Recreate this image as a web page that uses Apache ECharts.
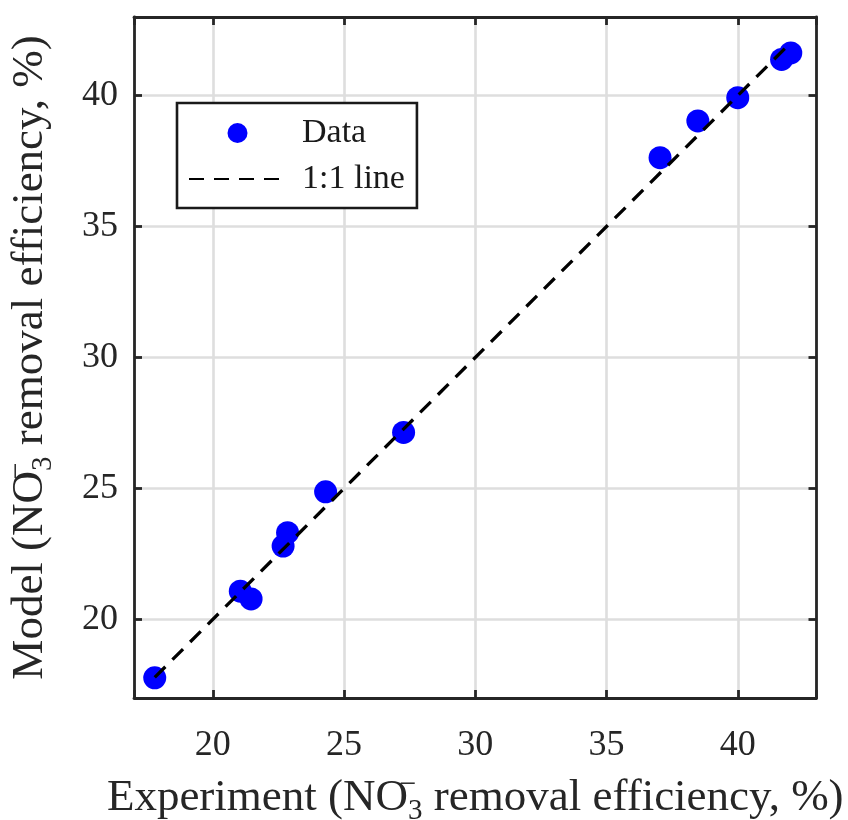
<!DOCTYPE html>
<html>
<head>
<meta charset="utf-8">
<title>Model vs Experiment</title>
<script src="https://cdn.jsdelivr.net/npm/echarts@6/dist/echarts.min.js"></script>
<style>
  html, body { margin: 0; padding: 0; background: #ffffff; }
  #chart { width: 848px; height: 820px; }
</style>
</head>
<body>
<div id="chart"></div>
<script>
// Measured NO3- removal efficiency (%) vs. model prediction (%)
const experiment = [17.79, 21.05, 21.46, 22.68, 22.85, 24.30, 27.27, 37.04, 38.48, 40.00, 41.67, 42.02];
const model      = [17.77, 21.08, 20.78, 22.80, 23.31, 24.87, 27.14, 37.63, 39.03, 39.92, 41.38, 41.63];

// End points of the 1:1 reference line
const identityEnds = [17.79, 42.02];

// Axis range and tick labels (same for both axes)
const axisMin = 17;
const axisMax = 43;
const tickValues = [20, 25, 30, 35, 40];

const seriesNames = ['Data', '1:1 line'];

const FONT = '"Liberation Serif", "Times New Roman", serif';
const INK = '#262626';

const scatterData = experiment.map((x, i) => [x, model[i]]);
const lineData = identityEnds.map(v => [v, v]);

// Rich-text styles for the axis titles (subscript 3 with a stacked superscript minus)
const titleRich = {
  t:   { fontFamily: FONT, fontSize: 45, color: INK, lineHeight: 56, verticalAlign: 'middle' },
  sup: { fontFamily: FONT, fontSize: 30, color: INK, lineHeight: 33, verticalAlign: 'top', width: 0 },
  sub: { fontFamily: FONT, fontSize: 29, color: INK, lineHeight: 19, verticalAlign: 'bottom' }
};

const tickLabel = {
  fontFamily: FONT,
  fontSize: 36,
  color: INK,
  formatter: v => (tickValues.indexOf(v) >= 0 ? String(v) : '')
};

const axisLine = { show: true, onZero: false, lineStyle: { color: INK, width: 2.8 } };
const axisTick = { show: true, inside: true, length: 8, lineStyle: { color: INK, width: 2.8 } };
const splitLine = { show: true, lineStyle: { color: '#dedede', width: 2.6 } };

const chart = echarts.init(document.getElementById('chart'), null, { renderer: 'canvas' });

chart.setOption({
  backgroundColor: '#ffffff',
  animation: false,
  grid: { left: 134, right: 31.5, top: 17, bottom: 122, containLabel: false, outerBoundsMode: 'none' },
  legend: {
    data: [
      { name: seriesNames[0] },
      { name: seriesNames[1], itemStyle: { opacity: 0 } }
    ],
    orient: 'vertical',
    left: 177,
    top: 103,
    padding: [13, 12, 12, 11],
    itemWidth: 97,
    itemHeight: 20,
    itemGap: 12,
    borderColor: '#1a1a1a',
    borderWidth: 2.6,
    backgroundColor: '#ffffff',
    textStyle: { fontFamily: FONT, fontSize: 34, color: '#1a1a1a', padding: [0, 0, 0, 11] }
  },
  xAxis: [
    {
      type: 'value', position: 'bottom', min: axisMin, max: axisMax,
      axisLine, axisTick, splitLine,
      axisLabel: Object.assign({ margin: 30 }, tickLabel),
      name: '{t|Experiment (NO}{sup|−}{sub|3}{t| removal efficiency, %)}',
      nameLocation: 'middle',
      nameGap: 72,
      nameTextStyle: { rich: titleRich }
    },
    {
      type: 'value', position: 'top', min: axisMin, max: axisMax,
      axisLine, axisTick, splitLine: { show: false }, axisLabel: { show: false }
    }
  ],
  yAxis: [
    {
      type: 'value', position: 'left', min: axisMin, max: axisMax,
      axisLine, axisTick, splitLine,
      axisLabel: Object.assign({ margin: 16 }, tickLabel),
      name: '{t|Model (NO}{sup|−}{sub|3}{t| removal efficiency, %)}',
      nameLocation: 'middle',
      nameGap: 76,
      nameRotate: 90,
      nameTextStyle: { rich: titleRich }
    },
    {
      type: 'value', position: 'right', min: axisMin, max: axisMax,
      axisLine, axisTick, splitLine: { show: false }, axisLabel: { show: false }
    }
  ],
  series: [
    {
      name: seriesNames[0],
      type: 'scatter',
      data: scatterData,
      symbol: 'circle',
      symbolSize: 23,
      itemStyle: { color: '#0000ff', opacity: 1 },
      z: 2
    },
    {
      name: seriesNames[1],
      type: 'line',
      data: lineData,
      showSymbol: false,
      symbol: 'none',
      lineStyle: { color: '#000000', width: 3.3, type: [15, 10] },
      itemStyle: { color: '#000000' },
      z: 3
    }
  ]
});
</script>
</body>
</html>
